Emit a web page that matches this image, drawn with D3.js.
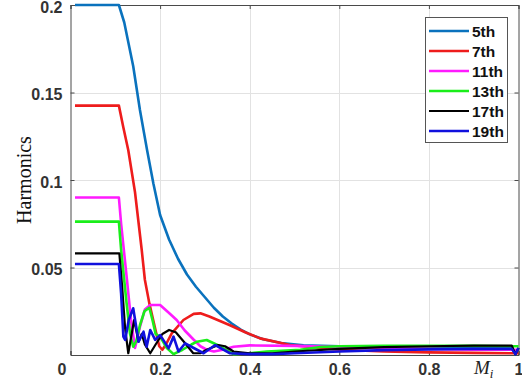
<!DOCTYPE html>
<html>
<head>
<meta charset="utf-8">
<script src="https://cdn.jsdelivr.net/npm/d3@7"></script>
<style>
  body { margin: 0; background: #fff; }
  svg { display: block; font-family: "Liberation Sans", Arial, sans-serif; }
</style>
</head>
<body>
<svg width="522" height="381"></svg>
<script>
// harmonic amplitude vs modulation index Mi, pairs of [Mi, value]
var h5 = [[0.01,0.2],[0.108,0.2],[0.12,0.19],[0.128,0.18],[0.14,0.165],[0.155,0.14],[0.171,0.117],[0.185,0.098],[0.2,0.08],[0.22,0.066],[0.24,0.055],[0.26,0.046],[0.28,0.039],[0.3,0.033],[0.32,0.027],[0.34,0.022],[0.36,0.018],[0.38,0.0145],[0.4,0.0118],[0.43,0.009],[0.47,0.0068],[0.52,0.0055],[0.6,0.005],[0.7,0.0048],[0.8,0.0047],[0.9,0.0046],[0.985,0.0045],[0.993,0.0005],[1,0.004]];
var h7 = [[0.01,0.1425],[0.108,0.1425],[0.118,0.13],[0.129,0.117],[0.144,0.093],[0.159,0.06],[0.166,0.043],[0.176,0.0295],[0.19,0.014],[0.198,0.005],[0.205,0.003],[0.213,0.006],[0.226,0.0124],[0.252,0.02],[0.275,0.0235],[0.29,0.0238],[0.31,0.022],[0.356,0.017],[0.39,0.013],[0.423,0.0095],[0.49,0.0057],[0.558,0.004],[0.6,0.003],[0.7,0.002],[0.8,0.0015],[0.9,0.0012],[0.99,0.001],[1,0.001]];
var h11 = [[0.01,0.09],[0.108,0.09],[0.113,0.075],[0.126,0.043],[0.135,0.02],[0.144,0.004],[0.155,0.016],[0.166,0.026],[0.178,0.0286],[0.2,0.0286],[0.22,0.024],[0.237,0.02],[0.255,0.014],[0.274,0.009],[0.29,0.005],[0.304,0.003],[0.32,0.002],[0.34,0.003],[0.364,0.0047],[0.4,0.0055],[0.5,0.0052],[0.6,0.0045],[0.7,0.004],[0.8,0.0035],[0.9,0.003],[0.99,0.003],[1,0.003]];
var h13 = [[0.01,0.0762],[0.108,0.0762],[0.113,0.06],[0.125,0.03],[0.133,0.012],[0.14,0.0047],[0.147,0.008],[0.155,0.017],[0.165,0.025],[0.176,0.027],[0.183,0.02],[0.19,0.012],[0.2,0.0105],[0.215,0.004],[0.23,0.0005],[0.25,0.003],[0.27,0.006],[0.282,0.0076],[0.304,0.0086],[0.334,0.005],[0.364,0.0005],[0.4,0.001],[0.438,0.002],[0.513,0.003],[0.558,0.0046],[0.6,0.005],[0.7,0.0052],[0.8,0.0052],[0.9,0.0052],[0.99,0.005],[1,0.005]];
var h17 = [[0.01,0.0581],[0.109,0.0581],[0.115,0.04],[0.122,0.015],[0.129,0.001],[0.142,0.02],[0.152,0.0076],[0.159,0.012],[0.166,0.006],[0.178,0.001],[0.19,0.006],[0.205,0.012],[0.22,0.0143],[0.235,0.013],[0.255,0.007],[0.274,0.001],[0.29,0.001],[0.304,0.003],[0.33,0.0057],[0.345,0.005],[0.364,0.002],[0.4,0.001],[0.45,0.001],[0.5,0.002],[0.6,0.0035],[0.7,0.0045],[0.8,0.005],[0.9,0.0054],[0.985,0.0054],[0.993,0.0005],[1,0.004]];
var h19 = [[0.01,0.052],[0.108,0.052],[0.113,0.035],[0.118,0.0105],[0.122,0.0086],[0.13,0.02],[0.14,0.0267],[0.152,0.0076],[0.163,0.0133],[0.17,0.0047],[0.178,0.0143],[0.189,0.0086],[0.2,0.0114],[0.219,0.0038],[0.23,0.0105],[0.241,0.002],[0.256,0.0067],[0.275,0.004],[0.297,0.001],[0.323,0.0057],[0.356,0.001],[0.4,0.0005],[0.45,0.0005],[0.5,0.001],[0.6,0.002],[0.7,0.0028],[0.8,0.0032],[0.9,0.0035],[0.985,0.0035],[0.993,0.0005],[1,0.004]];

var seriesNames = ["5th", "7th", "11th", "13th", "17th", "19th"];
var seriesData = [h5, h7, h11, h13, h17, h19];
var colors = ["#0a72bd", "#ee1c1c", "#ff1aff", "#1aee1a", "#000000", "#1010dd"];
var xTicks = [0, 0.2, 0.4, 0.6, 0.8, 1];
var yTicks = [0.05, 0.1, 0.15, 0.2];

var svg = d3.select("svg");
var pl = 70.5, pr = 518.5, pt = 5, pb = 355;

var x = d3.scaleLinear().domain([0, 1]).range([pl, pr]);
var y = d3.scaleLinear().domain([0, 0.2]).range([pb, pt]);

// grid
svg.append("g")
  .selectAll("line")
  .data(xTicks.slice(1, -1))
  .enter().append("line")
  .attr("x1", function(d) { return Math.round(x(d)) + 0.5; })
  .attr("x2", function(d) { return Math.round(x(d)) + 0.5; })
  .attr("y1", pt).attr("y2", pb)
  .attr("stroke", "#e2e2e2");
svg.append("g")
  .selectAll("line")
  .data(yTicks.slice(0, -1))
  .enter().append("line")
  .attr("y1", function(d) { return Math.round(y(d)) + 0.5; })
  .attr("y2", function(d) { return Math.round(y(d)) + 0.5; })
  .attr("x1", pl).attr("x2", pr)
  .attr("stroke", "#e2e2e2");

// axes with inward ticks
var fmt = function(d) { return d3.format("~g")(d); };
var xAxis = svg.append("g")
  .attr("transform", "translate(0," + pb + ")")
  .call(d3.axisBottom(x).tickValues(xTicks).tickSize(-4).tickPadding(8).tickFormat(fmt));
var yAxis = svg.append("g")
  .attr("transform", "translate(" + pl + ",0)")
  .call(d3.axisLeft(y).tickValues(yTicks).tickSize(-4).tickPadding(8).tickFormat(fmt));
svg.append("g")
  .attr("transform", "translate(0," + pt + ")")
  .call(d3.axisTop(x).tickValues(xTicks).tickSize(-4).tickFormat(""));
svg.append("g")
  .attr("transform", "translate(" + pr + ",0)")
  .call(d3.axisRight(y).tickValues(yTicks).tickSize(-4).tickFormat(""));

svg.selectAll(".domain").attr("stroke", "#4a4a4a");
svg.selectAll(".tick line").attr("stroke", "#4a4a4a");
svg.selectAll(".tick text")
  .attr("fill", "#333")
  .attr("font-size", 16)
  .attr("font-weight", "bold")
  .attr("font-family", "Liberation Sans, Arial, sans-serif");
yAxis.selectAll(".tick text").attr("dy", "0.45em");
xAxis.selectAll(".tick text").attr("dy", "0.72em")
  .filter(function(d) { return d === 0; }).attr("dx", -9);

// lines
var line = d3.line()
  .x(function(d) { return x(d[0]); })
  .y(function(d) { return y(d[1]); });

var plot = svg.append("g");
for (var i = 0; i < seriesData.length; i++) {
  plot.append("path")
    .datum(seriesData[i])
    .attr("fill", "none")
    .attr("stroke", colors[i])
    .attr("stroke-width", i === 4 ? 2.2 : 2.6)
    .attr("stroke-linejoin", "round")
    .attr("d", line);
}

// axis labels
svg.append("text")
  .attr("transform", "translate(31,180) rotate(-90)")
  .attr("text-anchor", "middle")
  .attr("font-family", "Liberation Serif, Times New Roman, serif")
  .attr("font-size", 20)
  .attr("fill", "#111")
  .text("Harmonics");

var mi = svg.append("text")
  .attr("x", 474)
  .attr("y", 374)
  .attr("font-family", "Liberation Serif, Times New Roman, serif")
  .attr("font-style", "italic")
  .attr("font-size", 19)
  .attr("fill", "#222");
mi.append("tspan").text("M");
mi.append("tspan").attr("font-size", 13).attr("dy", 4).text("i");

// legend
var lg = svg.append("g").attr("transform", "translate(425,17)");
lg.append("rect")
  .attr("x", 0.5).attr("y", 0.5)
  .attr("width", 82).attr("height", 125)
  .attr("fill", "#fff")
  .attr("stroke", "#555");
var rows = lg.selectAll("g.row")
  .data(seriesNames)
  .enter().append("g")
  .attr("transform", function(d, i) { return "translate(0," + (14 + i * 20) + ")"; });
rows.append("line")
  .attr("x1", 4).attr("x2", 44)
  .attr("stroke", function(d, i) { return colors[i]; })
  .attr("stroke-width", function(d, i) { return i === 4 ? 2 : 2.6; });
rows.append("text")
  .attr("x", 47)
  .attr("dy", "0.36em")
  .attr("font-size", 15.5)
  .attr("font-weight", "bold")
  .attr("fill", "#111")
  .text(function(d) { return d; });
</script>
</body>
</html>
